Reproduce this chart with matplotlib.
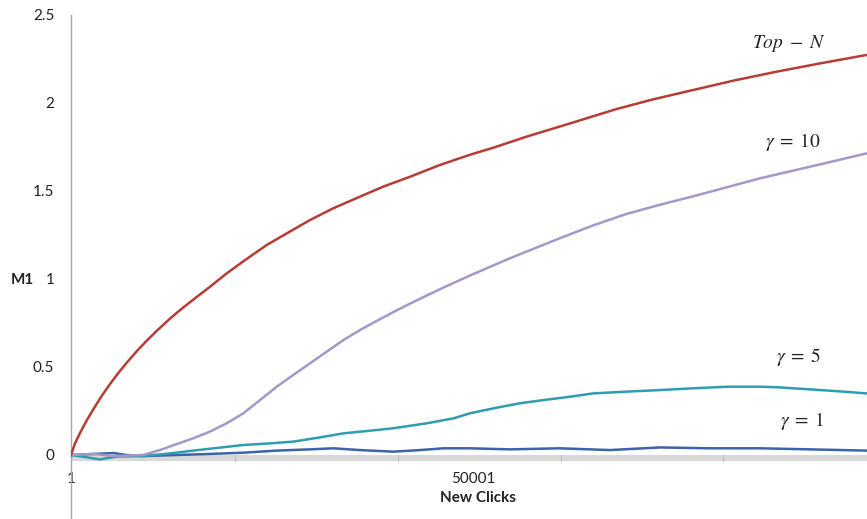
import matplotlib
matplotlib.use("Agg")
import matplotlib.pyplot as plt
from matplotlib.lines import Line2D

# Cumulative M1 metric against number of new clicks
top_n_clicks = [1, 500, 1120, 1950, 2780, 3815, 4852, 5888, 6925, 8169, 9413, 10657,
                12316, 13767, 15218, 17292, 19365, 21853, 24341, 26829, 29732, 32634,
                35952, 38854, 42172, 45904, 49636, 52537, 56687, 62076, 67883, 72440,
                77416, 82393, 87786, 93176, 98983]
top_n_m1 = [0, 0.066, 0.125, 0.196, 0.260, 0.335, 0.403, 0.466, 0.524, 0.589, 0.649, 0.705,
            0.775, 0.831, 0.883, 0.956, 1.032, 1.114, 1.193, 1.259, 1.335, 1.402,
            1.468, 1.525, 1.581, 1.648, 1.706, 1.746, 1.809, 1.884, 1.966, 2.021,
            2.074, 2.127, 2.178, 2.225, 2.273]

g10_clicks = [1, 2778, 5266, 8998, 11072, 13145, 15218, 17292, 19365, 21439, 23512, 25585,
              27659, 29732, 31805, 33879, 35952, 38025, 40099, 42172, 44245, 46319, 49636,
              54612, 60832, 64978, 69127, 73272, 77416, 81569, 85712, 89854, 94009, 98983]
g10_m1 = [0, 0.006, -0.006, 0.0, 0.028, 0.062, 0.095, 0.133, 0.180, 0.237, 0.312, 0.388,
          0.455, 0.521, 0.587, 0.653, 0.710, 0.762, 0.812, 0.860, 0.906, 0.951, 1.020,
          1.118, 1.232, 1.305, 1.370, 1.422, 1.470, 1.521, 1.572, 1.616, 1.660, 1.714]

g5_clicks = [1, 1949, 3607, 5681, 8998, 12316, 15218, 18536, 21439, 24756, 27659, 30976,
             33879, 37196, 40099, 44245, 47562, 49636, 52537, 55856, 58757, 62076, 64978,
             69127, 73272, 77416, 81569, 85712, 87786, 91932, 96074, 98983]
g5_m1 = [0, -0.013, -0.025, -0.009, -0.006, 0.009, 0.025, 0.042, 0.057, 0.066, 0.076, 0.100,
         0.123, 0.138, 0.152, 0.180, 0.208, 0.237, 0.265, 0.294, 0.312, 0.331, 0.350,
         0.360, 0.369, 0.379, 0.388, 0.388, 0.385, 0.373, 0.360, 0.350]

g1_clicks = [1, 2778, 5266, 6925, 8998, 13145, 17292, 21439, 25585, 29732, 32634, 35952,
             40099, 43416, 46319, 49636, 54612, 60832, 67053, 73272, 79494, 85712, 91932,
             98983]
g1_m1 = [0, 0.006, 0.011, 0.0, -0.006, 0.0, 0.006, 0.013, 0.025, 0.032, 0.038, 0.028,
         0.019, 0.028, 0.038, 0.038, 0.032, 0.038, 0.028, 0.043, 0.038, 0.038, 0.032,
         0.025]

x_tick_values = [1, 50001]
x_tick_labels = ["1", "50001"]
y_tick_values = [0, 0.5, 1, 1.5, 2, 2.5]
y_tick_labels = ["0", "0.5", "1", "1.5", "2", "2.5"]

series_labels = [r"$Top\;-\;N$", r"$\gamma\;=\;10$", r"$\gamma\;=\;5$", r"$\gamma\;=\;1$"]

W, H = 867, 519
plt.rcParams["font.family"] = ["Lato", "DejaVu Sans"]
plt.rcParams["mathtext.fontset"] = "stix"

fig = plt.figure(figsize=(W / 100, H / 100), dpi=100)
y_top_px, y_bottom_px = 15, 463.8
ax = fig.add_axes([71 / W, (H - y_bottom_px) / H, 1 - 71 / W, (y_bottom_px - y_top_px) / H])
ax.set_xlim(1, 99020)
ax.set_ylim(-0.05, 2.5)

for s in ax.spines.values():
    s.set_visible(False)

# grey floor strip along the category axis
ax.axhspan(-0.034, 0, color="#d9d9d9", zorder=1, lw=0)
for xt in [20400, 40680, 60950, 81100]:
    ax.plot([xt, xt], [-0.034, 0], color="#bdbdbd", lw=0.8, zorder=1.5)

# vertical axis line running down to the bottom edge
y_low = -(H - y_bottom_px) / (y_bottom_px - y_top_px)
ax.add_line(Line2D([0, 0], [y_low, 1], transform=ax.transAxes, color="#a6a6a6",
                   lw=1.0, clip_on=False, zorder=2))

lw = 1.8
ax.plot(g1_clicks, g1_m1, color="#3d63a8", lw=lw, zorder=3)
ax.plot(g5_clicks, g5_m1, color="#2f9db0", lw=lw, zorder=3)
ax.plot(g10_clicks, g10_m1, color="#a597c8", lw=lw, zorder=3)
ax.plot(top_n_clicks, top_n_m1, color="#b83c36", lw=lw, zorder=4)

ax.set_xticks(x_tick_values)
ax.set_xticklabels(x_tick_labels, fontsize=11, color="#222222")
ax.set_yticks(y_tick_values)
ax.set_yticklabels(y_tick_labels, fontsize=11, color="#222222")
ax.tick_params(axis="y", length=0, pad=12)
ax.tick_params(axis="x", length=0, pad=6)

label_pos = [(89320, 2.34), (89800, 1.78), (90560, 0.557), (90940, 0.193)]
for txt, (xx, yy) in zip(series_labels, label_pos):
    ax.text(xx, yy, txt, fontsize=14, ha="center", va="center", color="#222222")

fig.text(22 / W, 1 - 280 / H, "M1", fontsize=11, fontweight="bold", ha="center", va="center",
         color="#222222")
fig.text(478 / W, 1 - 498 / H, "New Clicks", fontsize=11, fontweight="bold", ha="center",
         va="center", color="#222222")

fig.savefig("out.png", dpi=100)
